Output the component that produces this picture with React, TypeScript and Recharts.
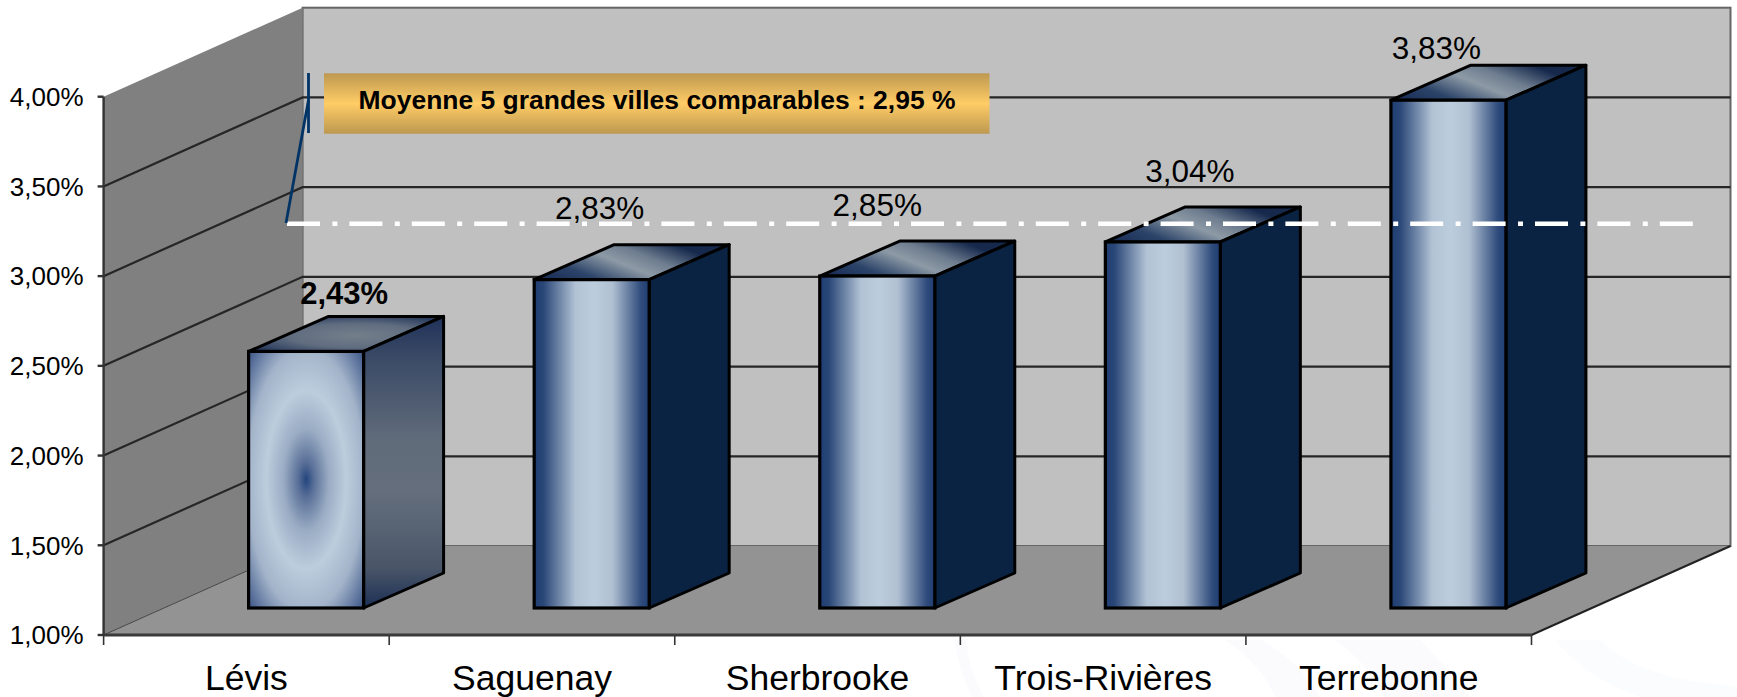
import { BarChart, Bar, XAxis, YAxis } from "recharts";

const categories = ["Lévis", "Saguenay", "Sherbrooke", "Trois-Rivières", "Terrebonne"];
const rates = [2.43, 2.83, 2.85, 3.04, 3.83];
const yTicks = [1, 1.5, 2, 2.5, 3, 3.5, 4];
const calloutText = "Moyenne 5 grandes villes comparables : 2,95 %";

// label nudges from the top of each bar, the original chart had them hand placed
const labelDx = [38, 8, 0, 27, -12];
const labelDy = [-47, -61, -60, -60, -41];

const W = 1737;
const H = 697;
const LEFT = 103.6;
const RIGHT = 1531.5;
const TOP = 96.7;
const BOTTOM = 635;
const WALL_DX = 199;
const WALL_DY = -89;
// bar sits this far into the floor, and is this deep
const INSET_DX = 60;
const INSET_DY = -27;
const DEPTH_DX = 80;
const DEPTH_DY = -35;

const FONT = "'Liberation Sans', Arial, sans-serif";

const chartData = categories.map((name, i) => ({ name, rate: rates[i] }));
const yPos = (v: number) => BOTTOM - ((v - 1) / 3) * (BOTTOM - TOP);
const fmtPct = (v: number) => `${v.toFixed(2).replace(".", ",")}%`;

function Defs() {
  return (
    <defs>
      <linearGradient id="pipe" x1="0" y1="0" x2="1" y2="0">
        <stop offset="0" stopColor="#1f3d72" />
        <stop offset="0.08" stopColor="#2a4778" />
        <stop offset="0.36" stopColor="#b2c3d5" />
        <stop offset="0.52" stopColor="#bccddd" />
        <stop offset="0.68" stopColor="#b0c0d2" />
        <stop offset="0.93" stopColor="#2f4b7c" />
        <stop offset="1" stopColor="#1f3d72" />
      </linearGradient>
      <linearGradient id="lid" x1="0.05" y1="0.9" x2="0.95" y2="0.5">
        <stop offset="0" stopColor="#1b3059" />
        <stop offset="0.22" stopColor="#2c4469" />
        <stop offset="0.52" stopColor="#8d9aa6" />
        <stop offset="0.72" stopColor="#6e7d8f" />
        <stop offset="1" stopColor="#16294d" />
      </linearGradient>
      <radialGradient id="targetLid" cx="0.55" cy="0.55" r="0.62">
        <stop offset="0" stopColor="#737f8a" />
        <stop offset="0.55" stopColor="#606d80" />
        <stop offset="1" stopColor="#27395c" />
      </radialGradient>
      <radialGradient id="target" cx="0.5" cy="0.5" r="0.707">
        <stop offset="0" stopColor="#24457f" />
        <stop offset="0.1" stopColor="#5a7098" />
        <stop offset="0.28" stopColor="#9aacc4" />
        <stop offset="0.49" stopColor="#bccddd" />
        <stop offset="0.72" stopColor="#a3b4ca" />
        <stop offset="1" stopColor="#3a5486" />
      </radialGradient>
      <linearGradient id="targetSide" x1="0" y1="0" x2="0" y2="1">
        <stop offset="0" stopColor="#1f3159" />
        <stop offset="0.14" stopColor="#3a4a66" />
        <stop offset="0.42" stopColor="#606b7a" />
        <stop offset="0.6" stopColor="#646e7d" />
        <stop offset="0.86" stopColor="#4a5668" />
        <stop offset="1" stopColor="#1c2f55" />
      </linearGradient>
      <linearGradient id="gold" x1="0" y1="0" x2="0" y2="1">
        <stop offset="0" stopColor="#bd9850" />
        <stop offset="0.5" stopColor="#ffcc66" />
        <stop offset="1" stopColor="#bd9850" />
      </linearGradient>
    </defs>
  );
}

// back wall, side wall and floor with the gridlines running round them
function Walls() {
  const backL = LEFT + WALL_DX;
  const backR = RIGHT + WALL_DX;
  const band = (RIGHT - LEFT) / categories.length;
  return (
    <g>
      {/* faint page watermark under the axis */}
      <path d="M955 640 Q958 670 972 697 L984 697 Q968 670 966 640 Z" fill="#fbfbfd" />
      <path d="M1225 640 Q1262 665 1275 697 L1320 697 Q1300 662 1262 640 Z" fill="#fbfbfd" />
      <path d="M1335 640 Q1365 660 1385 697 L1470 697 Q1440 660 1420 640 Z" fill="#fbfbfd" />
      <path d="M1555 640 Q1590 680 1640 697 L1737 697 L1737 686 Q1640 680 1600 640 Z" fill="#fbfcfd" />
      <rect x={backL} y={yPos(4) + WALL_DY} width={backR - backL} height={BOTTOM - TOP} fill="#c0c0c0" stroke="#666" strokeWidth={2} />
      <polygon
        points={`${LEFT},${TOP} ${backL},${TOP + WALL_DY} ${backL},${BOTTOM + WALL_DY} ${LEFT},${BOTTOM}`}
        fill="#808080"
      />
      <polygon
        points={`${LEFT},${BOTTOM} ${RIGHT},${BOTTOM} ${backR},${BOTTOM + WALL_DY} ${backL},${BOTTOM + WALL_DY}`}
        fill="#939393"
      />
      {yTicks.slice(1, -1).map((t) => (
        <polyline
          key={t}
          points={`${LEFT},${yPos(t)} ${backL},${yPos(t) + WALL_DY} ${backR},${yPos(t) + WALL_DY}`}
          fill="none"
          stroke="#262626"
          strokeWidth={2.2}
        />
      ))}
      <line x1={LEFT} y1={BOTTOM} x2={backL} y2={BOTTOM + WALL_DY} stroke="#444" strokeWidth={1} />
      <line x1={RIGHT} y1={BOTTOM} x2={backR} y2={BOTTOM + WALL_DY} stroke="#222" strokeWidth={2} />
      {/* category ticks sit between the bars, not under them */}
      {[0, 1, 2, 3, 4, 5].map((i) => (
        <line key={i} x1={LEFT + i * band} y1={BOTTOM} x2={LEFT + i * band} y2={BOTTOM + 10} stroke="#333" strokeWidth={1.6} />
      ))}
    </g>
  );
}

function Box3D(props: any) {
  const { x, y, height, index } = props;
  const w = 115;
  const fx = x + INSET_DX;
  const fy = y + INSET_DY;
  const h = height;
  const isFirst = index === 0;
  return (
    <g>
      <polygon
        points={`${fx},${fy} ${fx + DEPTH_DX},${fy + DEPTH_DY} ${fx + w + DEPTH_DX},${fy + DEPTH_DY} ${fx + w},${fy}`}
        fill={isFirst ? "url(#targetLid)" : "url(#lid)"}
        stroke="#000"
        strokeWidth={3}
        strokeLinejoin="round"
      />
      <polygon
        points={`${fx + w},${fy} ${fx + w + DEPTH_DX},${fy + DEPTH_DY} ${fx + w + DEPTH_DX},${fy + h + DEPTH_DY} ${fx + w},${fy + h}`}
        fill={isFirst ? "url(#targetSide)" : "#0a2342"}
        stroke="#000"
        strokeWidth={3}
        strokeLinejoin="round"
      />
      <rect x={fx} y={fy} width={w} height={h} fill={isFirst ? "url(#target)" : "url(#pipe)"} stroke="#000" strokeWidth={3.2} />
      <text
        x={fx + w / 2 + labelDx[index]}
        y={fy + labelDy[index]}
        textAnchor="middle"
        fontFamily={FONT}
        fontSize={isFirst ? 31 : 31.5}
        fontWeight={isFirst ? "bold" : "normal"}
        fill="#000"
      >
        {fmtPct(rates[index])}
      </text>
    </g>
  );
}

// recharts paints bars in its own layer above plain children, so this sits in a second svg on top
function Callout() {
  return (
    <svg width={W} height={H} style={{ position: "absolute", left: 0, top: 0, pointerEvents: "none" }}>
      <defs>
        <linearGradient id="goldTop" x1="0" y1="0" x2="0" y2="1">
          <stop offset="0" stopColor="#bd9850" />
          <stop offset="0.5" stopColor="#ffcc66" />
          <stop offset="1" stopColor="#bd9850" />
        </linearGradient>
      </defs>
      <line x1={287} y1={223.7} x2={1693} y2={223.7} stroke="#fff" strokeWidth={4.5} strokeDasharray="33 12.4 5 12" />
      <rect x={324} y={73.3} width={665.5} height={60.4} fill="url(#goldTop)" />
      <line x1={308.5} y1={73} x2={308.5} y2={133} stroke="#003366" strokeWidth={2.8} />
      <line x1={308.5} y1={100} x2={286} y2={223} stroke="#003366" strokeWidth={2.8} />
      <text x={358.5} y={109} fontFamily={FONT} fontWeight="bold" fontSize={26} textLength={597} lengthAdjust="spacingAndGlyphs" fill="#000">
        {calloutText}
      </text>
    </svg>
  );
}

export default function App() {
  return (
    <div style={{ position: "absolute", left: 0, top: 0, width: W, height: H }}>
      <BarChart
        width={W}
        height={H}
        data={chartData}
        margin={{ top: TOP, right: W - RIGHT, bottom: 0, left: 0 }}
        barCategoryGap={0}
      >
        <Defs />
        <Walls />
        <XAxis
          dataKey="name"
          height={H - BOTTOM}
          interval={0}
          tickLine={false}
          tickSize={10}
          tickMargin={20}
          stroke="#3a3a3a"
          strokeWidth={3}
          tick={{ fontSize: 35.5, fill: "#000", fontFamily: FONT }}
        />
        <YAxis
          width={LEFT}
          domain={[1, 4]}
          ticks={yTicks}
          tickFormatter={fmtPct}
          tickSize={6}
          tickMargin={14}
          stroke="#333"
          strokeWidth={2.4}
          tick={{ fontSize: 26, fill: "#000", fontFamily: FONT }}
        />
        <Bar dataKey="rate" barSize={115} isAnimationActive={false} shape={Box3D} />
      </BarChart>
      <Callout />
    </div>
  );
}
